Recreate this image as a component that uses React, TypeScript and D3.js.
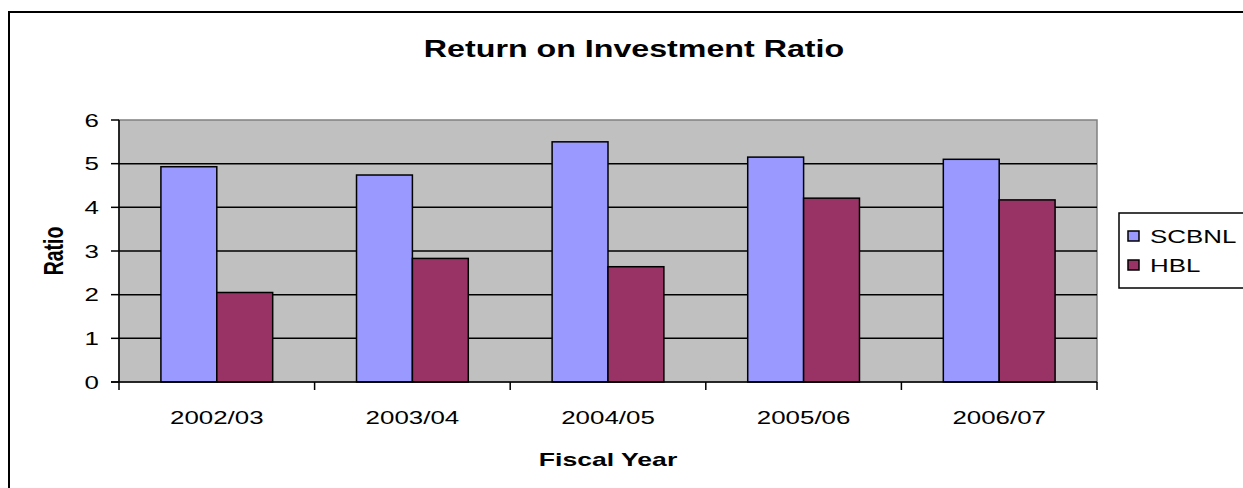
import React from "react";
import * as d3 from "d3";

const categories = ["2002/03", "2003/04", "2004/05", "2005/06", "2006/07"];
const seriesNames = ["SCBNL", "HBL"];
const scbnl = [4.93, 4.74, 5.5, 5.15, 5.1];
const hbl = [2.05, 2.83, 2.64, 4.21, 4.17];
const yTicks = [0, 1, 2, 3, 4, 5, 6];
const colors = ["#9999FF", "#993366"];
const title = "Return on Investment Ratio";
const xTitle = "Fiscal Year";
const yTitle = "Ratio";

const W = 1243;
const H = 488;
const SX = 1.4;
const FONT = "'Liberation Sans', Arial, sans-serif";

const plot = { left: 119, right: 1097, top: 120, bottom: 382 };

function SText(props: {
  x: number;
  y: number;
  size: number;
  bold?: boolean;
  anchor?: string;
  rotate?: number;
  children: React.ReactNode;
}) {
  const { x, y, size, bold, anchor = "start", rotate = 0, children } = props;
  return (
    <text
      transform={`translate(${x},${y}) scale(${SX},1)${rotate ? ` rotate(${rotate})` : ""}`}
      fontFamily={FONT}
      fontSize={size}
      fontWeight={bold ? "bold" : "normal"}
      textAnchor={anchor}
      fill="#000"
    >
      {children}
    </text>
  );
}

export default function App() {
  const x0 = d3
    .scaleBand<string>()
    .domain(categories)
    .range([plot.left, plot.right])
    .paddingInner(0)
    .paddingOuter(0);
  const bw = x0.bandwidth();
  const barW = bw / 3.5;
  const x1 = d3
    .scaleBand<string>()
    .domain(seriesNames)
    .range([0.75 * barW, bw - 0.75 * barW])
    .padding(0);
  const y = d3.scaleLinear().domain([0, 6]).range([plot.bottom, plot.top]);

  const values = [scbnl, hbl];
  const boundaries = d3.range(categories.length + 1).map((i) => plot.left + i * bw);

  return (
    <svg
      width={W}
      height={H}
      style={{ position: "absolute", left: 0, top: 0, background: "#fff" }}
    >
      <rect x={0} y={0} width={W} height={H} fill="#fff" />
      {/* outer chart border */}
      <rect x={9} y={12} width={W + 20} height={H + 20} fill="none" stroke="#000" strokeWidth={2} />

      {/* title */}
      <SText x={634} y={57} size={23} bold anchor="middle">
        {title}
      </SText>

      {/* plot area */}
      <rect
        x={plot.left}
        y={plot.top}
        width={plot.right - plot.left}
        height={plot.bottom - plot.top}
        fill="#C0C0C0"
        stroke="#808080"
        strokeWidth={1.5}
      />
      {/* gridlines */}
      {yTicks
        .filter((t) => t > 0 && t < 6)
        .map((t) => (
          <line
            key={"g" + t}
            x1={plot.left}
            x2={plot.right}
            y1={y(t)}
            y2={y(t)}
            stroke="#000"
            strokeWidth={1.5}
          />
        ))}

      {/* bars */}
      {categories.map((c, i) => (
        <g key={c}>
          {seriesNames.map((s, j) => (
            <rect
              key={s}
              x={(x0(c) as number) + (x1(s) as number)}
              y={y(values[j][i])}
              width={x1.bandwidth()}
              height={y(0) - y(values[j][i])}
              fill={colors[j]}
              stroke="#000"
              strokeWidth={1.5}
            />
          ))}
        </g>
      ))}

      {/* axes */}
      <line x1={plot.left} x2={plot.left} y1={plot.top} y2={plot.bottom} stroke="#000" strokeWidth={1.5} />
      <line x1={plot.left - 8} x2={plot.right} y1={plot.bottom} y2={plot.bottom} stroke="#000" strokeWidth={1.5} />
      {yTicks.map((t) => (
        <g key={"yt" + t}>
          <line x1={plot.left - 8} x2={plot.left} y1={y(t)} y2={y(t)} stroke="#000" strokeWidth={1.5} />
          <SText x={99} y={y(t) + 6.5} size={18.5} anchor="end">
            {t}
          </SText>
        </g>
      ))}
      {boundaries.map((b, i) => (
        <line key={"xt" + i} x1={b} x2={b} y1={plot.bottom} y2={plot.bottom + 8} stroke="#000" strokeWidth={1.5} />
      ))}
      {categories.map((c) => (
        <SText key={"xl" + c} x={(x0(c) as number) + bw / 2} y={424} size={18.5} anchor="middle">
          {c}
        </SText>
      ))}

      {/* axis titles */}
      <SText x={608} y={466} size={19} bold anchor="middle">
        {xTitle}
      </SText>
      <SText x={63} y={(plot.top + plot.bottom) / 2} size={19.5} bold anchor="middle" rotate={-90}>
        {yTitle}
      </SText>

      {/* legend */}
      <rect x={1119} y={213} width={200} height={75} fill="#fff" stroke="#000" strokeWidth={1.5} />
      {seriesNames.map((s, j) => (
        <g key={"lg" + s}>
          <rect x={1128} y={231 + j * 29} width={11} height={10} fill={colors[j]} stroke="#000" strokeWidth={1.5} />
          <SText x={1150} y={242.5 + j * 29} size={18.5}>
            {s}
          </SText>
        </g>
      ))}
    </svg>
  );
}
